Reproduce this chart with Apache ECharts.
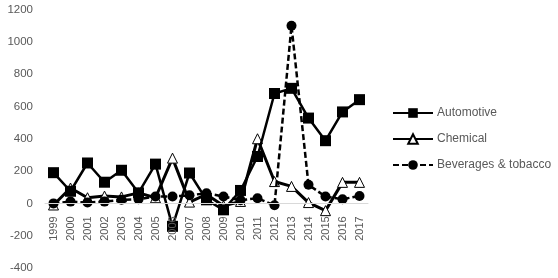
<!DOCTYPE html>
<html><head><meta charset="utf-8">
<script src="https://cdn.jsdelivr.net/npm/echarts@6/dist/echarts.min.js"></script>
<style>html,body{margin:0;padding:0;background:#fff}#c{width:558px;height:278px}</style>
</head><body><div id="c"></div>
<script>
const years = ['1999','2000','2001','2002','2003','2004','2005','2006','2007','2008','2009','2010','2011','2012','2013','2014','2015','2016','2017'];
const automotive = [190, 75, 250, 131, 205, 65, 243, -142, 188, 22, -40, 80, 290, 680, 712, 528, 388, 566, 642];
const chemical = [-10, 95, 35, 45, 40, 65, 35, 280, 8, 55, -15, 12, 400, 135, 105, 5, -45, 130, 130];
const beverages = [0, 11, 5, 11, 22, 26, 42, 42, 50, 63, 42, 20, 32, -12, 1099, 115, 42, 26, 46];
const yTicks = {min: -400, max: 1200, interval: 200};

const gridTop = 9.5, gridBottom = 10, H = 278;
const plotH = H - gridTop - gridBottom;
const zeroOffset = -plotH * (0 - yTicks.min) / (yTicks.max - yTicks.min);

const chart = echarts.init(document.getElementById('c'));
const font = 'Liberation Sans';
chart.setOption({
  animation: false,
  grid: {left: 45, right: 190, top: gridTop, bottom: gridBottom, containLabel: false, outerBoundsMode: 'none'},
  legend: {
    orient: 'vertical', left: 392, top: 107, padding: 0, itemWidth: 40, itemHeight: 12, itemGap: 14,
    textStyle: {fontFamily: font, fontSize: 12, color: '#595959', padding: [0, 0, 0, -1]},
    data: ['Automotive', 'Chemical', 'Beverages & tobacco']
  },
  xAxis: {
    type: 'category', data: years, boundaryGap: true, offset: zeroOffset, z: 5,
    axisLine: {onZero: false, lineStyle: {color: '#d9d9d9', width: 1}},
    axisTick: {show: false},
    axisLabel: {rotate: 90, margin: 13, fontFamily: font, fontSize: 11, color: '#595959', interval: 0}
  },
  yAxis: {
    type: 'value', min: yTicks.min, max: yTicks.max, interval: yTicks.interval,
    axisLine: {show: false}, axisTick: {show: false}, splitLine: {show: false},
    axisLabel: {margin: 12, fontFamily: font, fontSize: 11.5, color: '#595959', formatter: v => String(v)}
  },
  series: [
    {name: 'Automotive', type: 'line', data: automotive, symbol: 'rect', symbolSize: 11,
     itemStyle: {color: '#000'}, lineStyle: {color: '#000', width: 2.5}, z: 3},
    {name: 'Chemical', type: 'line', data: chemical, symbol: 'triangle', symbolSize: 10,
     itemStyle: {color: '#fff', borderColor: '#000', borderWidth: 1}, lineStyle: {color: '#000', width: 3}, z: 2},
    {name: 'Beverages & tobacco', type: 'line', data: beverages, symbol: 'circle', symbolSize: 10,
     itemStyle: {color: '#000'}, lineStyle: {color: '#000', width: 2.5, type: [6, 3]}, z: 4}
  ]
});
</script></body></html>
